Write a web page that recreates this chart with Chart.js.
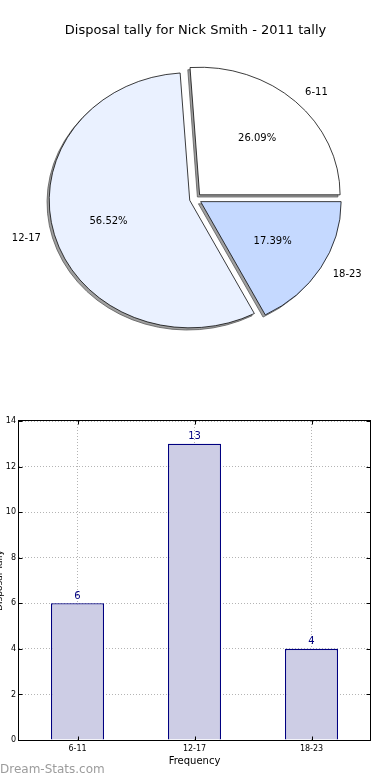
<!DOCTYPE html>
<html>
<head>
<meta charset="utf-8">
<script src="https://cdn.jsdelivr.net/npm/chart.js@4/dist/chart.umd.min.js"></script>
<style>
  html, body { margin: 0; padding: 0; background: #fff; overflow: hidden; }
  #page { position: relative; width: 390px; height: 780px; overflow: hidden; }
  #pie { position: absolute; left: 0; top: 0; }
  #bar { position: absolute; left: -6px; top: 400px; }
  #mark { position: absolute; left: 0; top: 762px; font: 12px "DejaVu Sans", sans-serif; color: #9c9c9c; }
</style>
</head>
<body>
<div id="page">
  <canvas id="pie" width="390" height="395"></canvas>
  <canvas id="bar" width="396" height="380"></canvas>
  <div id="mark">Dream-Stats.com</div>
</div>
<script>
const TITLE = "Disposal tally for Nick Smith - 2011 tally";
const categories = ["6-11", "12-17", "18-23"];
const counts = [6, 13, 4];
const yTickValues = [0, 2, 4, 6, 8, 10, 12, 14];
const X_TITLE = "Frequency";
const Y_TITLE = "Disposal Tally";

const FONT = '"DejaVu Sans", sans-serif';
const PIE_COLORS = ["#ffffff", "#eaf1ff", "#c5d9ff"];
const NAVY = "#000080";
const BAR_FILL = "#cdcde5";
const GRID = "#b4b4b4";

// matplotlib-ish look: slightly flattened, exploded slices with a shadow
const SQUASH = 0.908;
const EXPLODE = 6;
const SHADOW_DX = -2.2;
const SHADOW_DY = 2.4;

const total = counts.reduce((a, b) => a + b, 0);
// chart.js goes clockwise, the original went counter-clockwise from 3 o'clock
const pieOrder = categories.map((_, i) => i).reverse();

const piePlugin = {
  id: "pieLook",
  beforeDatasetsDraw(chart) {
    const ctx = chart.ctx;
    const arcs = chart.getDatasetMeta(0).data;
    const cy = arcs[0].y;
    ctx.save();
    ctx.translate(0, cy);
    ctx.scale(1, SQUASH);
    ctx.translate(0, -cy);
    for (const arc of arcs) {
      const mid = (arc.startAngle + arc.endAngle) / 2;
      const sx = arc.x + Math.cos(mid) * EXPLODE + SHADOW_DX;
      const sy = arc.y + Math.sin(mid) * EXPLODE + SHADOW_DY;
      ctx.beginPath();
      ctx.moveTo(sx, sy);
      ctx.arc(sx, sy, arc.outerRadius, arc.startAngle, arc.endAngle);
      ctx.closePath();
      ctx.fillStyle = "#a0a0a0";
      ctx.fill();
      ctx.lineWidth = 0.8;
      ctx.strokeStyle = "#555";
      ctx.stroke();
      if (!arc._exploded) {
        const base = arc.draw;
        arc.draw = function (c, area) {
          const m = (this.startAngle + this.endAngle) / 2;
          c.save();
          c.translate(Math.cos(m) * EXPLODE, Math.sin(m) * EXPLODE);
          base.call(this, c, area);
          c.restore();
        };
        arc._exploded = true;
      }
    }
  },
  afterDatasetsDraw(chart) {
    const ctx = chart.ctx;
    ctx.restore();
    const arcs = chart.getDatasetMeta(0).data;
    const cy = arcs[0].y;
    ctx.save();
    ctx.font = "10px " + FONT;
    ctx.fillStyle = "#000";
    ctx.textBaseline = "middle";
    arcs.forEach((arc, j) => {
      const i = pieOrder[j];
      const mid = (arc.startAngle + arc.endAngle) / 2;
      const c = Math.cos(mid), s = Math.sin(mid);
      const ex = arc.x + c * EXPLODE;
      const ey = cy + (arc.y + s * EXPLODE - cy) * SQUASH;
      const r = arc.outerRadius;
      ctx.textAlign = "center";
      const pct = (counts[i] / total * 100).toFixed(2) + "%";
      ctx.fillText(pct, ex + c * r * 0.6, ey + s * r * 0.6 * SQUASH);
      ctx.textAlign = c >= 0 ? "left" : "right";
      ctx.fillText(categories[i], ex + c * r * 1.1, ey + s * r * 1.1 * SQUASH);
    });
    ctx.restore();
  },
};

new Chart(document.getElementById("pie"), {
  type: "pie",
  data: {
    labels: pieOrder.map((i) => categories[i]),
    datasets: [{
      data: pieOrder.map((i) => counts[i]),
      backgroundColor: pieOrder.map((i) => PIE_COLORS[i]),
      borderColor: "#000",
      borderWidth: 0.8,
      radius: 140.5,
      clip: false,
    }],
  },
  options: {
    responsive: false,
    animation: false,
    rotation: 90,
    layout: { padding: { left: 1, right: 0, top: 0, bottom: 36 } },
    plugins: {
      legend: { display: false },
      tooltip: { enabled: false },
      title: {
        display: true,
        text: TITLE,
        color: "#000",
        font: { family: FONT, size: 13, weight: "normal" },
        padding: { top: 23, bottom: 0 },
      },
    },
  },
  plugins: [piePlugin],
});

const framePlugin = {
  id: "frame",
  afterDraw(chart) {
    const { ctx, chartArea: a, scales } = chart;
    ctx.save();
    ctx.strokeStyle = "#000";
    ctx.lineWidth = 1;
    const l = Math.round(a.left) - 0.5, r = Math.round(a.right) + 0.5;
    const t = Math.round(a.top) - 0.5, b = Math.round(a.bottom) + 0.5;
    ctx.strokeRect(l, t, r - l, b - t);
    ctx.beginPath();
    for (const v of yTickValues) {
      const y = Math.round(scales.y.getPixelForValue(v)) + 0.5;
      ctx.moveTo(l, y); ctx.lineTo(l + 4, y);
      ctx.moveTo(r, y); ctx.lineTo(r - 4, y);
    }
    categories.forEach((_, i) => {
      const x = Math.round(scales.x.getPixelForTick(i)) + 0.5;
      ctx.moveTo(x, b); ctx.lineTo(x, b - 4);
      ctx.moveTo(x, t); ctx.lineTo(x, t + 4);
    });
    ctx.stroke();
    ctx.restore();
  },
};

const valuePlugin = {
  id: "values",
  afterDatasetsDraw(chart) {
    const ctx = chart.ctx;
    ctx.save();
    ctx.font = "10px " + FONT;
    ctx.fillStyle = NAVY;
    ctx.textAlign = "center";
    ctx.textBaseline = "bottom";
    chart.getDatasetMeta(0).data.forEach((bar, i) => {
      ctx.fillText(String(counts[i]), bar.x, bar.y - 2);
    });
    ctx.restore();
  },
};

new Chart(document.getElementById("bar"), {
  type: "bar",
  data: {
    labels: categories,
    datasets: [{
      data: counts,
      backgroundColor: BAR_FILL,
      borderColor: NAVY,
      borderWidth: 1.3,
      categoryPercentage: 1,
      barPercentage: 53 / 117,
    }],
  },
  options: {
    responsive: false,
    animation: false,
    layout: { padding: { top: 21, right: 20, left: 0, bottom: 0 } },
    plugins: { legend: { display: false }, tooltip: { enabled: false } },
    scales: {
      x: {
        z: 1,
        grid: { offset: false, color: GRID, drawTicks: false },
        border: { display: false, dash: [1, 2] },
        ticks: { color: "#000", font: { family: FONT, size: 8 }, padding: 4 },
        title: {
          display: true, text: X_TITLE, color: "#000",
          font: { family: FONT, size: 10 }, padding: { top: 0, bottom: 13 },
        },
        afterFit(scale) { scale.height = 40; },
      },
      y: {
        z: 1,
        min: 0,
        max: 14,
        grid: { color: GRID, drawTicks: false },
        border: { display: false, dash: [1, 2] },
        ticks: { color: "#000", font: { family: FONT, size: 8 }, padding: 3 },
        afterBuildTicks(scale) { scale.ticks = yTickValues.map((v) => ({ value: v })); },
        title: {
          display: true, text: Y_TITLE, color: "#000",
          font: { family: FONT, size: 9 }, padding: 0,
        },
        afterFit(scale) { scale.width = 25; },
      },
    },
  },
  plugins: [framePlugin, valuePlugin],
});
</script>
</body>
</html>
